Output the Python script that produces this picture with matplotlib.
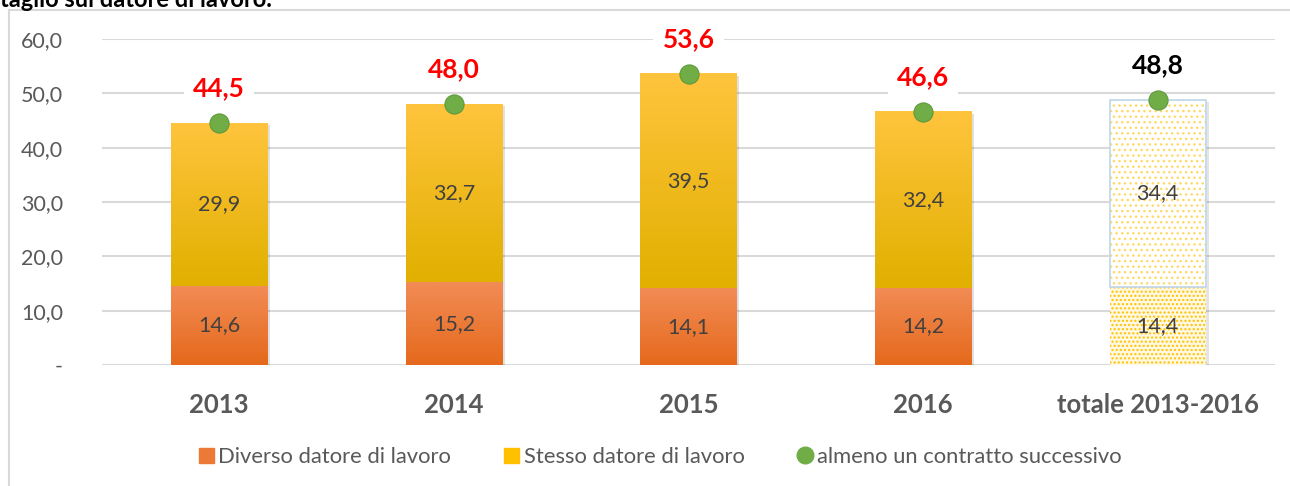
import numpy as np
import matplotlib.pyplot as plt
from matplotlib.lines import Line2D
from matplotlib.patches import Patch
from matplotlib.colors import to_rgb

plt.rcParams['font.family'] = ['Lato', 'DejaVu Sans']

# dati
categorie = ['2013', '2014', '2015', '2016', 'totale 2013-2016']
diverso = [14.6, 15.2, 14.1, 14.2, 14.4]
stesso = [29.9, 32.7, 39.5, 32.4, 34.4]
almeno = [44.5, 48.0, 53.6, 46.6, 48.8]
tick_vals = [0, 10, 20, 30, 40, 50, 60]

W, H = 1290, 486
fig = plt.figure(figsize=(W / 100, H / 100), dpi=100)
ax = fig.add_axes([102 / W, 1 - 365 / H, (1275 - 102) / W, (365 - 39) / H])

x = np.arange(len(categorie))
bw = 0.41
n = len(categorie) - 1  # ultimo = totale, stile diverso


def gradient_bar(xc, y0, h, top, bottom):
    # barra con sfumatura verticale
    c1 = np.array(to_rgb(top))
    c2 = np.array(to_rgb(bottom))
    t = np.linspace(0, 1, 100)[:, None]
    img = (c1 * (1 - t) + c2 * t)[:, None, :]
    ax.imshow(img, extent=[xc - bw / 2, xc + bw / 2, y0, y0 + h], origin='upper',
              aspect='auto', zorder=2, interpolation='bilinear')


for i in range(n):
    # ombra
    ax.bar(x[i] + 0.012, almeno[i], bw, bottom=-0.4, color='#000000', alpha=0.12, zorder=1.5, linewidth=0)
    gradient_bar(x[i], 0, diverso[i], '#F28C55', '#E5691C')
    gradient_bar(x[i], diverso[i], stesso[i], '#FFC43D', '#E1B000')

# totale: pattern a puntini
ax.bar(x[n] + 0.012, almeno[n], bw, bottom=-0.4, color='#000000', alpha=0.10, zorder=1.5, linewidth=0)
ax.bar(x[n], diverso[n], bw, color='#FFF8E0', edgecolor='#FFC000', hatch='....', linewidth=0, zorder=2)
ax.bar(x[n], stesso[n], bw, bottom=diverso[n], color='white', edgecolor='#FFD966', hatch='...', linewidth=0, zorder=2)
ax.bar(x[n], stesso[n], bw, bottom=diverso[n], color='none', edgecolor='#BDD7EE', linewidth=1.2, zorder=2.1)

# etichette interne
for i in range(len(categorie)):
    ax.text(x[i], diverso[i] / 2, f'{diverso[i]:.1f}'.replace('.', ','), ha='center', va='center',
            fontsize=15.5, color='#404040', zorder=4)
    ax.text(x[i], diverso[i] + stesso[i] / 2, f'{stesso[i]:.1f}'.replace('.', ','), ha='center',
            va='center', fontsize=15.5, color='#404040', zorder=4)

# punti verdi e valori totali
ax.scatter(x, almeno, s=190, color='#70AD47', edgecolor='#5E9A3A', linewidth=0.8, zorder=5)
for i in range(len(categorie)):
    col = 'black' if i == n else '#FF0000'
    ax.annotate(f'{almeno[i]:.1f}'.replace('.', ','), (x[i], almeno[i]), xytext=(0, 25),
                textcoords='offset points', ha='center', va='center', fontsize=19,
                fontweight='bold', color=col, zorder=6, annotation_clip=False,
                bbox=dict(boxstyle='square,pad=0.35', fc='white', ec='none'))

ax.set_xlim(-0.5, len(categorie) - 0.5)
ax.set_ylim(0, 60)
ax.set_yticks(tick_vals)
ax.set_yticklabels(['-' if v == 0 else f'{v:.1f}'.replace('.', ',') for v in tick_vals])
ax.set_xticks(x)
ax.set_xticklabels(categorie, fontsize=18.5, fontweight='bold', color='#595959')
ax.tick_params(axis='y', labelsize=15.5, labelcolor='#595959', length=0, pad=28)
ax.tick_params(axis='x', length=0, pad=20)
ax.grid(axis='y', color='#D9D9D9', linewidth=1.5, zorder=0)
ax.set_axisbelow(True)
for s in ax.spines.values():
    s.set_visible(False)

# legenda
handles = [Patch(color='#EC7A36', label='Diverso datore di lavoro'),
           Patch(color='#FFC000', label='Stesso datore di lavoro'),
           Line2D([], [], marker='o', linestyle='none', markersize=12, color='#70AD47',
                  label='almeno un contratto successivo')]
fig.legend(handles=handles, loc='center', bbox_to_anchor=(660 / W, 1 - 457 / H), ncol=3,
           frameon=False, fontsize=15.8, handlelength=0.7, handleheight=0.7, handletextpad=0.2,
           columnspacing=2.4, labelcolor='#595959')

# cornice e testo tagliato in alto
fig.add_artist(Line2D([9 / W, 9 / W], [0, 1 - 10 / H], color='#D9D9D9', linewidth=1.5))
fig.add_artist(Line2D([9 / W, 1], [1 - 10 / H, 1 - 10 / H], color='#D9D9D9', linewidth=1.5))
fig.text(0 / W, 1 - 7 / H, 'taglio sul datore di lavoro.', fontsize=17, fontweight='bold',
         color='black', ha='left', va='baseline')

fig.savefig('out.png', dpi=100)
